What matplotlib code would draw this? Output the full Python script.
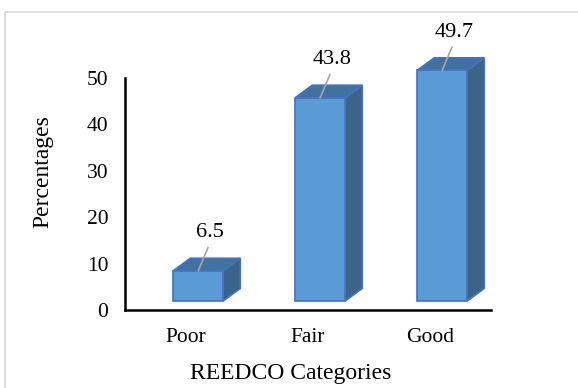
import matplotlib
matplotlib.use('Agg')
import matplotlib.pyplot as plt
from matplotlib.patches import Polygon, Rectangle

categories = ['Poor', 'Fair', 'Good']
percentages = [6.5, 43.8, 49.7]
value_labels = ['6.5', '43.8', '49.7']
yticks = [0, 10, 20, 30, 40, 50]

plt.rcParams['font.family'] = ['Liberation Serif', 'DejaVu Serif']

front_col = '#5B9BD5'
top_col = '#41719F'
side_col = '#3B6488'
edge_col = '#4472C4'

fig = plt.figure(figsize=(5.78, 3.88), dpi=100)
ax = fig.add_axes([125 / 578, 1 - 310 / 388, 366 / 578, 232 / 388])

# fake 3d look: front face + top + side
shift = 0.1     # front face sits a bit right of the category slot
half_w = 0.205
base = 1.95     # floor offset above the axis line
dx, dy = 0.14, 2.7

for i, v in enumerate(percentages):
    x0 = i + shift - half_w
    x1 = i + shift + half_w
    yb = base
    yt = base + v
    top = Polygon([(x0, yt), (x1, yt), (x1 + dx, yt + dy), (x0 + dx, yt + dy)],
                  closed=True, facecolor=top_col, edgecolor=edge_col, lw=1.2, clip_on=False)
    side = Polygon([(x1, yb), (x1 + dx, yb + dy), (x1 + dx, yt + dy), (x1, yt)],
                   closed=True, facecolor=side_col, edgecolor=edge_col, lw=1.2, clip_on=False)
    front = Rectangle((x0, yb), x1 - x0, v, facecolor=front_col,
                      edgecolor=edge_col, lw=1.2, clip_on=False)
    ax.add_patch(side)
    ax.add_patch(top)
    ax.add_patch(front)

    # data label with leader line
    cx = i + shift
    ax.plot([cx, cx + 0.08], [yt, yt + 5.0], color='#A6A6A6', lw=1.2, clip_on=False)
    ax.text(cx + 0.1, yt + 8.2, value_labels[i], ha='center', va='center',
            fontsize=16, color='#000000', clip_on=False)

ax.set_xlim(-0.5, 2.5)
ax.set_ylim(0, 50)
ax.set_yticks(yticks)
ax.set_xticks(range(len(categories)))
ax.set_xticklabels(categories)
ax.tick_params(axis='both', length=0, labelsize=15.5, colors='#000000')
ax.tick_params(axis='y', pad=12)
ax.tick_params(axis='x', pad=13)

for s in ['top', 'right']:
    ax.spines[s].set_visible(False)
for s in ['left', 'bottom']:
    ax.spines[s].set_linewidth(1.8)
    ax.spines[s].set_color('#000000')
ax.patch.set_alpha(0)

fig.text(291 / 578, 1 - 374 / 388, 'REEDCO Categories', ha='center', va='center', fontsize=17)
fig.text(43 / 578, 1 - 172 / 388, 'Percentages', ha='center', va='center',
         rotation=90, fontsize=17)

# chart frame (only top/left edges visible in the crop)
fig.add_artist(Rectangle((5 / 578, -0.5), 2, 1.5 - 12 / 388, transform=fig.transFigure,
                         fill=False, edgecolor='#D9D9D9', lw=1.2))

fig.savefig('out.png', dpi=100)
